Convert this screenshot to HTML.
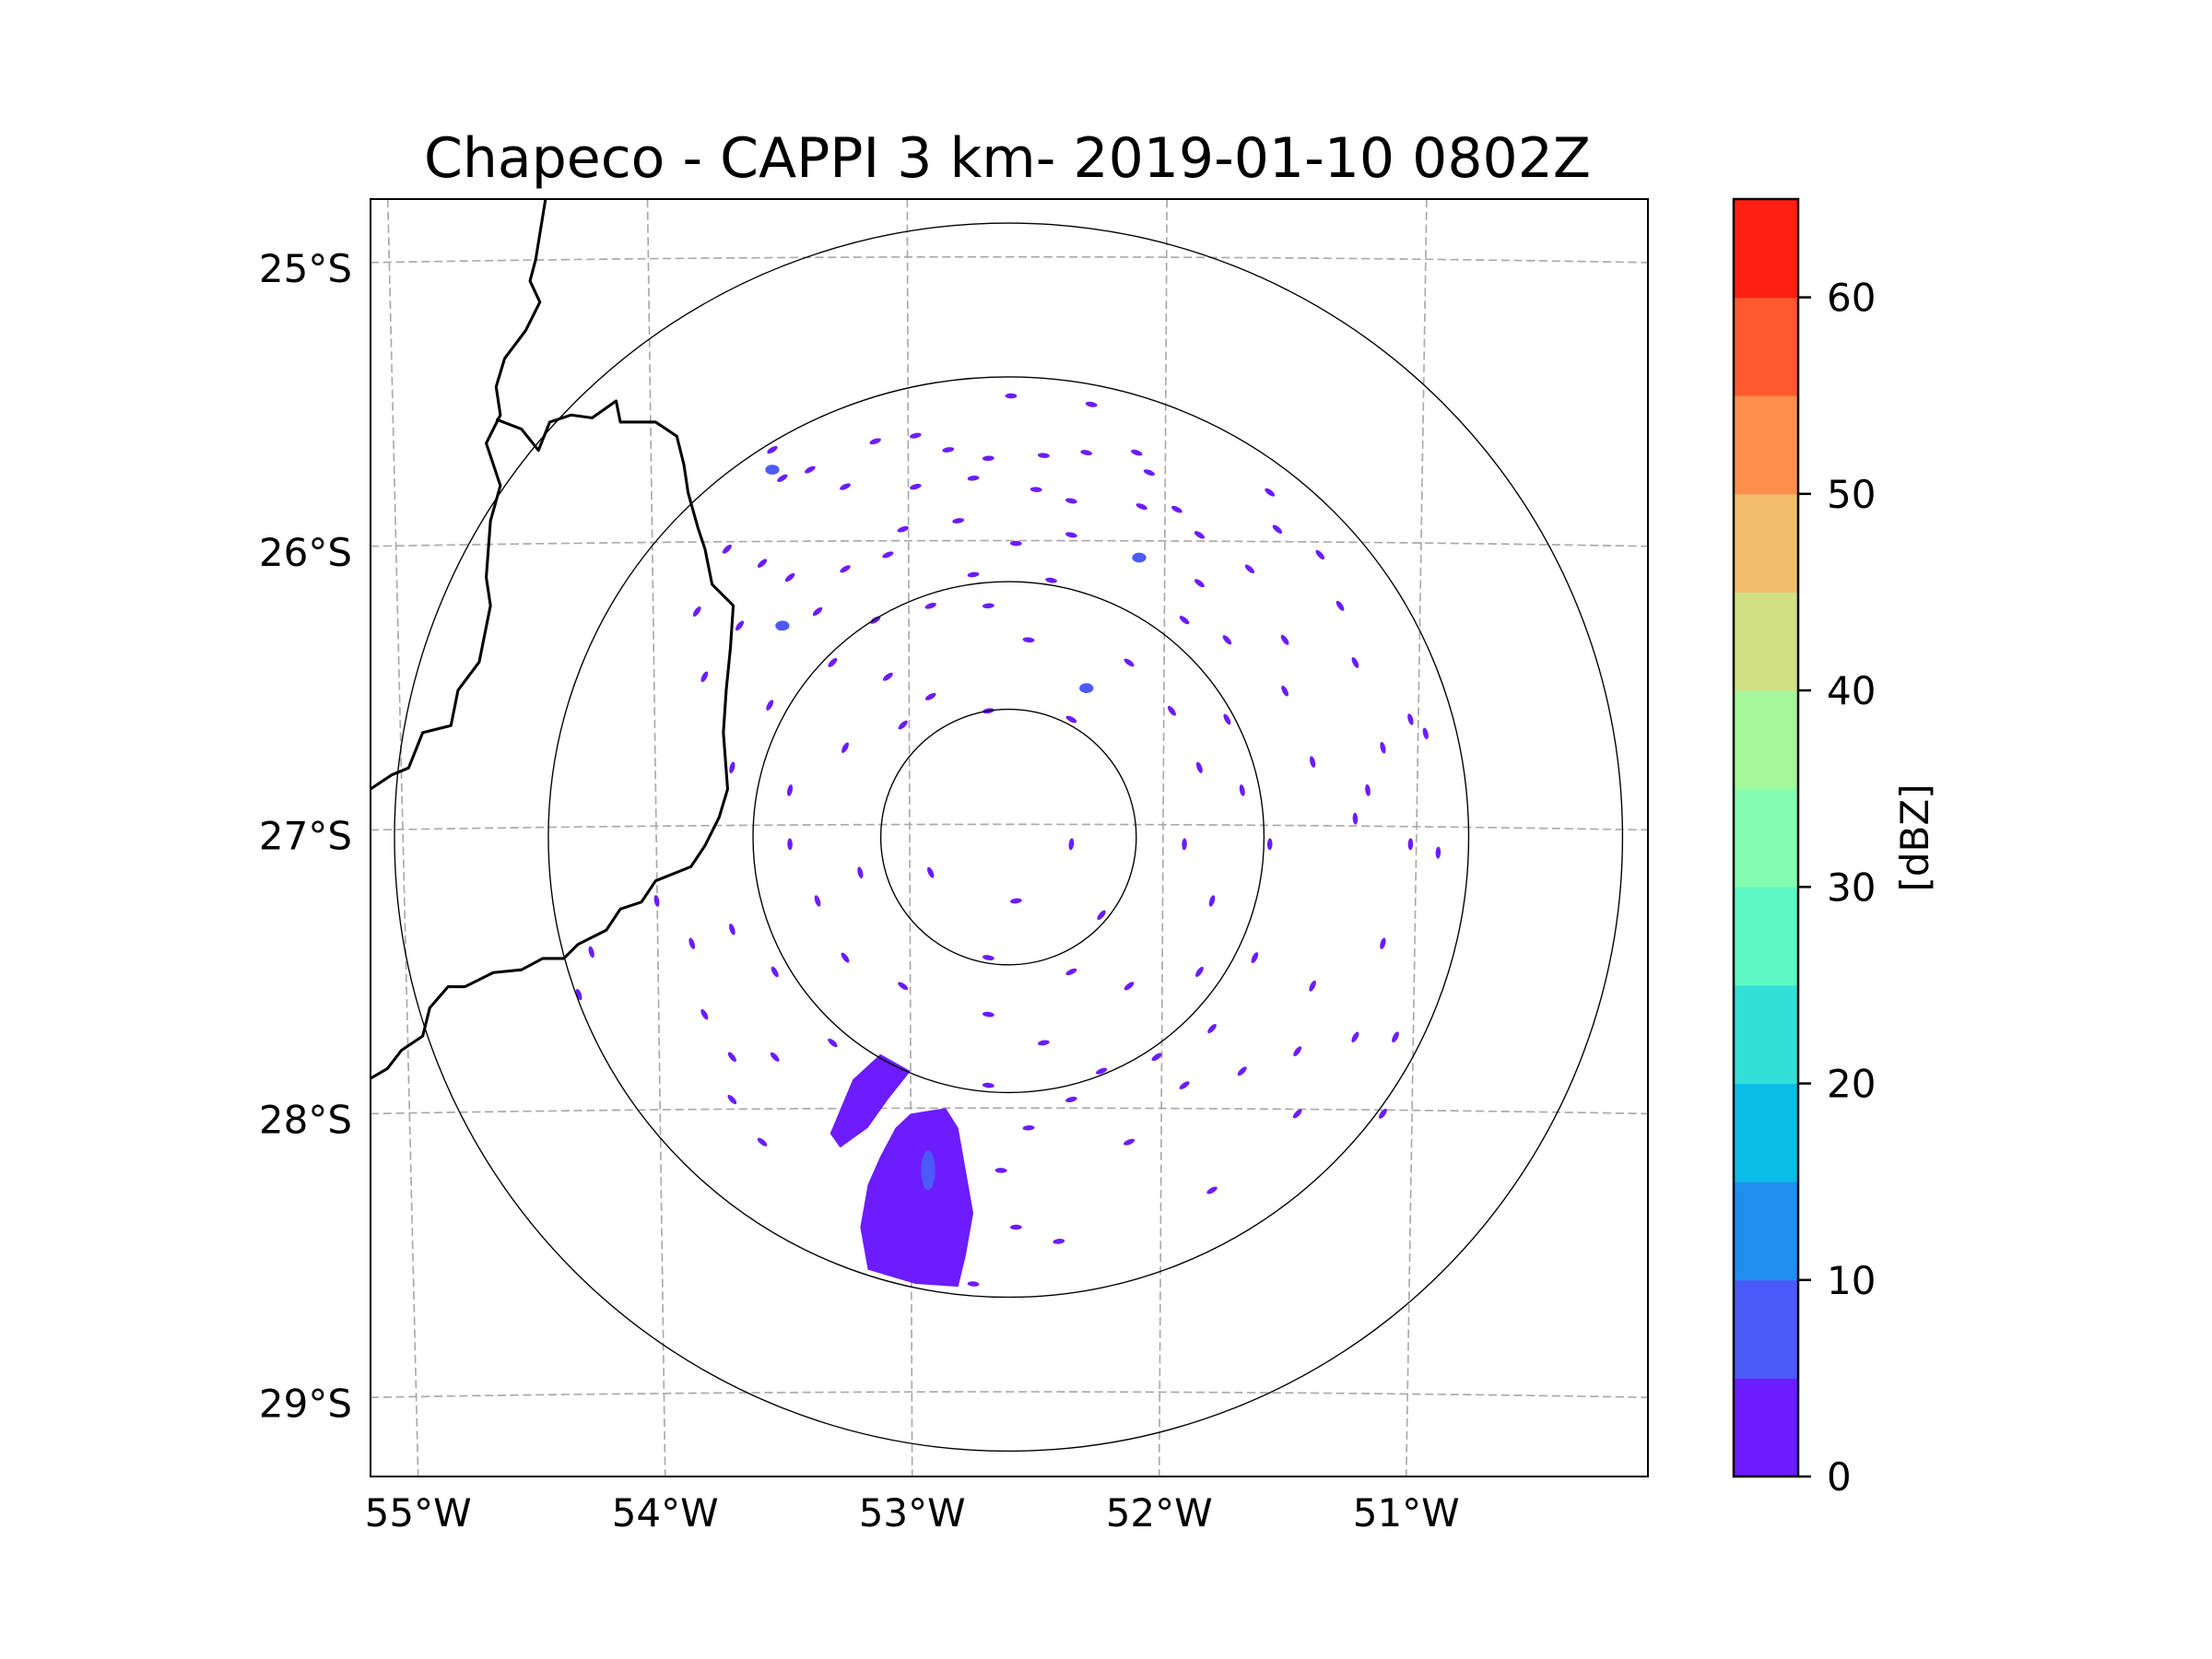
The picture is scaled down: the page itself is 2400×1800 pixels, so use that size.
<!DOCTYPE html>
<html><head><meta charset="utf-8"><style>
html,body{margin:0;padding:0;background:#fff;}
svg{display:block;font-family:"DejaVu Sans","Liberation Sans",sans-serif;}
</style></head><body>
<svg id="chart" width="2400" height="1800" viewBox="0 0 2400 1800" xmlns="http://www.w3.org/2000/svg">
<rect width="2400" height="1800" fill="#fff"/>
<text x="1093" y="192" font-size="60" text-anchor="middle" fill="#000">Chapeco - CAPPI 3 km- 2019-01-10 0802Z</text>
<defs><clipPath id="ax"><rect x="263" y="142" width="905" height="905"/></clipPath></defs>
<g id="map" transform="translate(-0.8,-1.5) scale(1.5315)">
  <g clip-path="url(#ax)">
    <g id="grid"></g>
    <g id="echoes"></g>
    <g id="rings"></g>
    <polyline fill="none" stroke="#000" stroke-width="2" stroke-linejoin="round" points="387,142 380,185 376,200 383,215 373,235 358,255 352,275 355,295 345,315 350,330 355,345 348,370 345,410 348,430 340,470 325,490 320,515 300,520 290,545 278,550 263,560"/>
    <polyline fill="none" stroke="#000" stroke-width="2" stroke-linejoin="round" points="352,298 370,305 382,320 390,300 405,295 420,297 430,290 437,285 440,300 455,300 465,300 480,310 485,330 488,350 495,375 500,390 505,415 520,430 518,460 515,490 513,520 516,560 510,580 500,600 490,615 465,625 455,640 440,645 430,660 410,670 400,680 385,680 370,688 350,690 330,700 318,700 305,715 300,735 285,745 275,758 263,765"/>
  </g>
  <rect x="263" y="142" width="905" height="905" fill="none" stroke="#000" stroke-width="1.3"/>
</g>
<g id="labels" font-size="42" fill="#000"></g>
<g id="cbar"></g>
<text transform="translate(2092,909) rotate(-90)" font-size="42" text-anchor="middle">[dBZ]</text>
<script>
const lonTicks=[-55,-54,-53,-52,-51];
const lonTickLabels=["55°W","54°W","53°W","52°W","51°W"];
const latTicks=[-25,-26,-27,-28,-29];
const latTickLabels=["25°S","26°S","27°S","28°S","29°S"];
const ringRadiiKm=[50,100,200,240];
const cbarLevels=[0,5,10,15,20,25,30,35,40,45,50,55,60,65];
const cbarColors=["#6c1cff","#4a5bf9","#1f8eee","#0abce6","#33e0d8","#5ef9c4","#84fdb0","#a5f799","#d1e087","#f3bd6d","#ff8f4d","#ff5930","#ff1f13"];
const cbarTicks=[0,10,20,30,40,50,60];
const echoLon=[-52.60,-52.28,-53.55,-53.40,-53.14,-52.98,-52.85,-52.69,-52.47,-52.30,-52.10,-52.05,-53.51,-53.26,-52.98,-52.75,-52.50,-52.36,-52.08,-51.94,-51.57,-53.03,-52.81,-52.58,-52.36,-52.09,-51.85,-51.54,-53.73,-53.59,-53.48,-53.26,-53.09,-52.75,-52.44,-51.85,-51.65,-51.37,
-53.85,-53.68,-53.51,-53.37,-53.14,-52.92,-52.69,-52.53,-52.30,-52.13,-51.91,-51.74,-51.51,-51.29,-51.23,-53.82,-53.56,-53.31,-53.09,-52.92,-52.69,-52.36,-51.96,-51.74,-51.51,-51.01,-51.12,-53.71,-53.48,-53.26,-53.03,-51.85,-51.68,-51.40,-51.18,-50.95,
-53.48,-53.37,-53.20,-52.92,-52.58,-52.36,-52.24,-51.91,-51.80,-51.57,-51.23,-51.01,-50.90,-54.01,-53.87,-53.71,-53.54,-53.26,-53.03,-52.69,-52.36,-52.13,-51.85,-51.63,-51.40,-51.12,-54.27,
-54.32,-53.82,-53.54,-53.31,-52.69,-52.47,-52.24,-52.02,-51.80,-51.68,-51.46,-51.23,-51.07,-53.71,-53.59,-52.69,-52.53,-52.36,-52.13,-51.80,-51.46,-51.12,-52.64,-52.58,-52.41,-52.75,-53.71,-51.91,-53.28];
const echoLat=[-25.47,-25.50,-25.66,-25.73,-25.63,-25.61,-25.66,-25.69,-25.68,-25.67,-25.67,-25.74,-25.76,-25.79,-25.79,-25.76,-25.80,-25.84,-25.86,-25.87,-25.81,-25.94,-25.91,-25.99,-25.96,-26.04,-25.96,-25.94,-26.01,-26.06,-26.11,-26.08,-26.03,-26.10,-26.12,-26.13,-26.08,-26.03,
-26.23,-26.28,-26.28,-26.23,-26.26,-26.21,-26.21,-26.33,-26.50,-26.41,-26.26,-26.33,-26.33,-26.21,-26.41,-26.46,-26.56,-26.41,-26.46,-26.53,-26.58,-26.61,-26.58,-26.61,-26.51,-26.61,-26.71,-26.78,-26.86,-26.71,-26.63,-26.78,-26.86,-26.76,-26.86,-26.66,
-27.05,-27.25,-27.15,-27.15,-27.25,-27.05,-27.30,-27.05,-27.25,-27.05,-26.96,-27.05,-27.08,-27.25,-27.40,-27.35,-27.50,-27.45,-27.55,-27.45,-27.50,-27.55,-27.50,-27.45,-27.55,-27.40,-27.43,
-27.58,-27.65,-27.80,-27.75,-27.65,-27.75,-27.85,-27.80,-27.70,-27.85,-27.78,-27.73,-27.73,-27.95,-28.10,-27.90,-28.05,-27.95,-28.10,-28.27,-28.00,-28.00,-28.20,-28.40,-28.45,-28.60,-27.80,-27.90,-28.05];
const blobLon=[-53.00,-52.86,-52.81,-52.78,-52.75,-52.78,-52.81,-52.98,-53.17,-53.20,-53.17,-53.12,-53.06];
const blobLat=[-28.00,-27.98,-28.05,-28.20,-28.35,-28.50,-28.61,-28.60,-28.55,-28.40,-28.25,-28.15,-28.05];
const stripeLon=[-53.23,-53.12,-53.00,-53.09,-53.17,-53.28,-53.32];
const stripeLat=[-27.88,-27.79,-27.85,-27.95,-28.05,-28.12,-28.07];
const bigEchoLon=[-52.09,-52.30,-53.55,-53.51];
const bigEchoLat=[-26.04,-26.50,-25.73,-26.28];

const NS="http://www.w3.org/2000/svg";
const S=1.5315, OX=-0.8, OY=-1.5;
const px=lon=>715+(lon+52.61)*178;
const py=lat=>593+(-27.02-lat)*201;
function mk(tag,attrs,parent){const e=document.createElementNS(NS,tag);for(const k in attrs)e.setAttribute(k,attrs[k]);parent.appendChild(e);return e;}
const grid=document.getElementById('grid');
lonTicks.forEach((lon,i)=>{
  const l=mk('line',{x1:px(lon)+(lon+52.61)*6,y1:142,x2:px(lon)-(lon+52.61)*3,y2:1047,stroke:'#aaaaaa','stroke-width':1.1,'stroke-dasharray':'6,3'},grid);
  
  
});
latTicks.forEach((lat,i)=>{
  const y0=py(lat)-4;
  const p=mk('path',{d:`M263,${y0+4} Q715,${y0-4} 1168,${y0+4}`,fill:'none',stroke:'#aaaaaa','stroke-width':1.1,'stroke-dasharray':'6,3'},grid);
  
  
});
const ech=document.getElementById('echoes');
const cx=px(-52.61), cy=py(-27.025);
echoLon.forEach((lon,i)=>{
  const x=px(lon), y=py(echoLat[i]);
  const ang=Math.atan2(y-cy,x-cx)*180/Math.PI+90;
  const e=mk('ellipse',{cx:x,cy:y,rx:4.2,ry:1.8,fill:'#6c1cff',transform:`rotate(${ang.toFixed(1)} ${x} ${y})`},ech);
  
  
});
bigEchoLon.forEach((lon,i)=>{
  const e=mk('ellipse',{cx:px(lon),cy:py(bigEchoLat[i]),rx:5,ry:3.5,fill:'#4a5bf9'},ech);
  
  
});
const pb=mk('polygon',{points:blobLon.map((l,i)=>px(l)+','+py(blobLat[i])).join(' '),fill:'#6c1cff'},ech);


const ps=mk('polygon',{points:stripeLon.map((l,i)=>px(l)+','+py(stripeLat[i])).join(' '),fill:'#6c1cff'},ech);


const core=mk('ellipse',{cx:px(-52.93),cy:py(-28.2),rx:5,ry:14,fill:'#4a5bf9'},ech);


const rings=document.getElementById('rings');
const ringPx=[90.5,181,326,435];
ringRadiiKm.forEach((km,i)=>{
  const c=mk('circle',{cx:cx,cy:cy,r:ringPx[i],fill:'none',stroke:'#000','stroke-width':0.9},rings);
  
  
});
const lab=document.getElementById('labels');
lonTicks.forEach((lon,i)=>{
  const xd=px(lon)-(lon+52.61)*3;
  const t=mk('text',{x:xd*S+OX,y:1656,'text-anchor':'middle'},lab);
  t.textContent=lonTickLabels[i];
  
  
});
latTicks.forEach((lat,i)=>{
  const t=mk('text',{x:382,y:(py(lat)+4)*S+OY+15,'text-anchor':'end'},lab);
  t.textContent=latTickLabels[i];
  
  
});
const cb=document.getElementById('cbar');
const cTop=216,cBot=1602,cL=1881,cW=70;
const cy2=v=>cBot-(v-cbarLevels[0])/(cbarLevels[cbarLevels.length-1]-cbarLevels[0])*(cBot-cTop);
cbarColors.forEach((col,i)=>{
  const r=mk('rect',{x:cL,y:cy2(cbarLevels[i+1]),width:cW,height:cy2(cbarLevels[i])-cy2(cbarLevels[i+1])+0.5,fill:col},cb);
  
  
});
const fr=mk('rect',{x:cL,y:cTop,width:cW,height:cBot-cTop,fill:'none',stroke:'#000','stroke-width':2.5},cb);


cbarTicks.forEach(v=>{
  const tk=mk('line',{x1:cL+cW,x2:cL+cW+14,y1:cy2(v),y2:cy2(v),stroke:'#000','stroke-width':2.5},cb);
  
  
  const t=mk('text',{x:1982,y:cy2(v)+15,'font-size':42},cb);
  t.textContent=String(v);
  
  
});
</script>
</svg>
</body></html>
